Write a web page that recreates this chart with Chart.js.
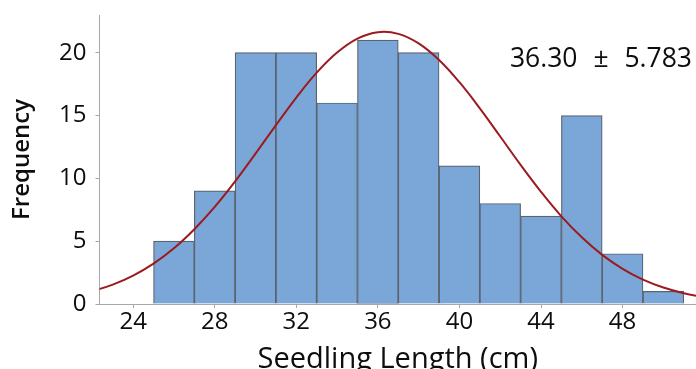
<!DOCTYPE html>
<html>
<head>
<meta charset="utf-8">
<script src="https://cdn.jsdelivr.net/npm/chart.js@4.4.1/dist/chart.umd.min.js"></script>
<style>
  html, body { margin: 0; padding: 0; background: #fff; }
  #wrap { width: 696px; height: 369px; }
</style>
</head>
<body>
<div id="wrap"><canvas id="myChart" width="696" height="369"></canvas></div>
<script>
// histogram bins (centres, width 2 cm) and counts
var binCentres = [26, 28, 30, 32, 34, 36, 38, 40, 42, 44, 46, 48, 50];
var binCounts = [5, 9, 20, 20, 16, 21, 20, 11, 8, 7, 15, 4, 1];

// fitted normal curve, read at each whole cm
var curveX = [22, 23, 24, 25, 26, 27, 28, 29, 30, 31, 32, 33, 34, 35, 36, 37,
    38, 39, 40, 41, 42, 43, 44, 45, 46, 47, 48, 49, 50, 51, 52];
var curveY = [1.02, 1.54, 2.26, 3.21, 4.43, 5.95, 7.73, 9.76, 11.97, 14.23, 16.43, 18.41, 20.01, 21.12, 21.63, 21.50,
    20.74, 19.42, 17.65, 15.57, 13.33, 11.07, 8.93, 6.98, 5.31, 3.91, 2.80, 1.94, 1.31, 0.86, 0.54];

var xTicks = [24, 28, 32, 36, 40, 44, 48];
var yTicks = [0, 5, 10, 15, 20];
var fitLabel = '36.30 \u00b1 5.783';

var fontFamily = '"Open Sans", "Noto Sans", sans-serif';
var textColor = '#0d0d0d';
var axisColor = '#a8a8a8';

var fitLabelPlugin = {
    id: 'fitLabel',
    afterDraw: function (chart) {
        var ctx = chart.ctx;
        ctx.save();
        ctx.font = '26.5px ' + fontFamily;
        ctx.fillStyle = textColor;
        ctx.textAlign = 'right';
        ctx.textBaseline = 'alphabetic';
        if ('wordSpacing' in ctx) ctx.wordSpacing = '9px';
        ctx.fillText(fitLabel, 692, 67);
        ctx.restore();
    }
};

var ctx = document.getElementById('myChart').getContext('2d');
var myChart = new Chart(ctx, {
    data: {
        datasets: [{
            type: 'line',
            label: 'Normal fit',
            data: curveX.map(function (x, i) { return {x: x, y: curveY[i]}; }),
            borderColor: '#9b1b1f',
            borderWidth: 2,
            pointRadius: 0,
            tension: 0.4,
            fill: false,
            order: 0
        }, {
            type: 'bar',
            label: 'Seedling length',
            data: binCentres.map(function (x, i) { return {x: x, y: binCounts[i]}; }),
            backgroundColor: '#7ba6d8',
            borderColor: '#5a636e',
            borderWidth: 1.2,
            barPercentage: 1,
            categoryPercentage: 1,
            order: 1
        }]
    },
    options: {
        responsive: false,
        animation: false,
        layout: { padding: { top: 15, right: 0, left: 0, bottom: 0 } },
        plugins: {
            legend: { display: false },
            tooltip: { enabled: false }
        },
        scales: {
            x: {
                type: 'linear',
                offset: false,
                min: 22.35,
                max: 51.6,
                afterBuildTicks: function (scale) {
                    scale.ticks = xTicks.map(function (v) { return {value: v}; });
                },
                afterFit: function (scale) {
                    scale.height = 65;
                    scale.paddingLeft = 0;
                    scale.paddingRight = 0;
                },
                grid: { display: true, offset: false, drawOnChartArea: false, tickLength: 4, color: axisColor },
                border: { color: axisColor, width: 1 },
                ticks: { color: textColor, font: { family: fontFamily, size: 24 }, padding: 0, maxRotation: 0 },
                title: {
                    display: true,
                    text: 'Seedling Length (cm)',
                    color: textColor,
                    font: { family: fontFamily, size: 29, lineHeight: 1.0 },
                    padding: { top: 0, bottom: -5 }
                }
            },
            y: {
                min: 0,
                max: 23,
                afterBuildTicks: function (scale) {
                    scale.ticks = yTicks.map(function (v) { return {value: v}; });
                },
                afterFit: function (scale) {
                    scale.width = 99.5;
                    scale.paddingTop = 0;
                    scale.paddingBottom = 0;
                },
                grid: { display: true, drawOnChartArea: false, tickLength: 4, color: axisColor },
                border: { color: axisColor, width: 1 },
                ticks: { color: textColor, font: { family: fontFamily, size: 24 }, padding: 9 },
                title: {
                    display: true,
                    text: 'Frequency',
                    color: textColor,
                    font: { family: fontFamily, size: 24, weight: '600' },
                    padding: { top: 8, bottom: 0 }
                }
            }
        }
    },
    plugins: [fitLabelPlugin]
});
</script>
</body>
</html>
